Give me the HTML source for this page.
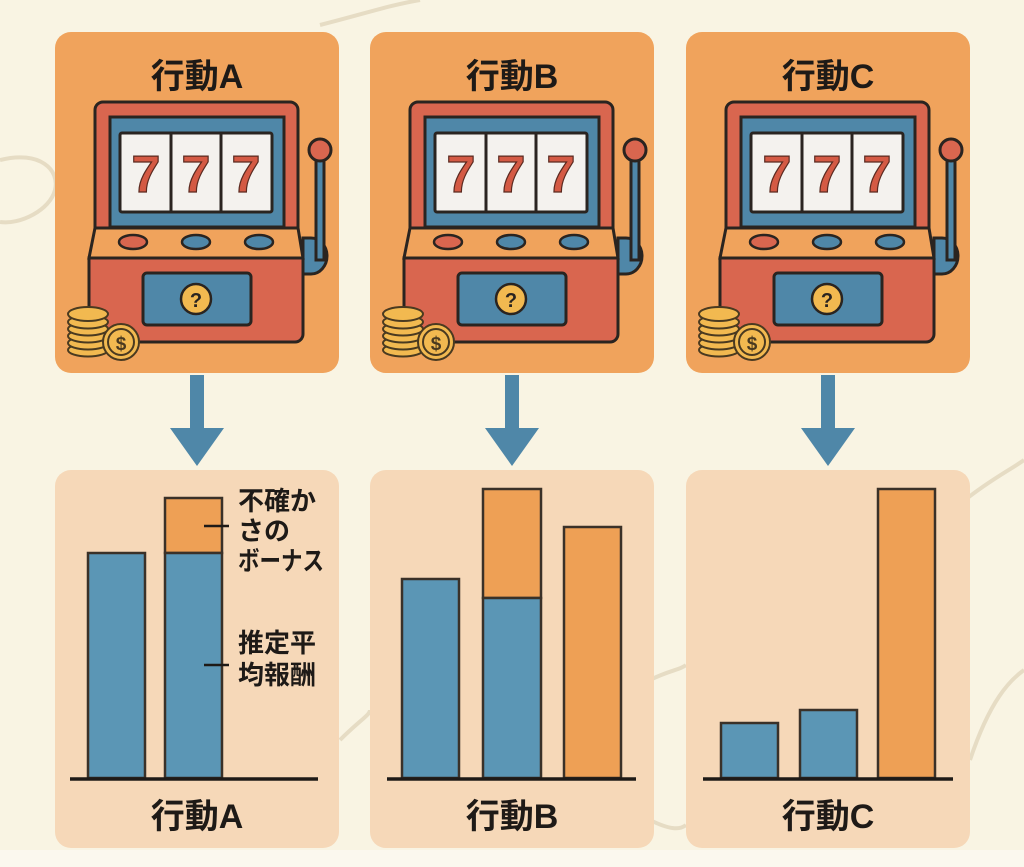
<!DOCTYPE html>
<html><head><meta charset="utf-8"><style>
html,body{margin:0;padding:0;background:#f9f4e3;}
svg{display:block}
text{font-family:"Liberation Sans","Noto Sans CJK JP",sans-serif;font-weight:bold;fill:#1e1a17}
</style></head><body>
<svg width="1024" height="867" viewBox="0 0 1024 867" xmlns="http://www.w3.org/2000/svg">
<rect width="1024" height="867" fill="#f9f4e3"/>
<g fill="none" stroke="#e6dcc4" stroke-width="4">
<path d="M0 160 C40 150 60 170 55 190 C50 210 20 225 0 222"/>
<path d="M320 25 C360 15 390 5 420 0"/>
<path d="M965 500 C990 480 1010 470 1024 460"/>
<path d="M340 740 C360 720 370 715 370 710"/>
<path d="M650 680 C670 670 680 670 686 665"/>
<path d="M970 760 C990 700 1010 680 1024 670"/>
<path d="M650 820 C670 830 680 830 686 825"/>
</g>
<rect x="0" y="850" width="1024" height="17" fill="#fbf8ee"/>
<defs>
<g id="slot">
<!-- lever -->
<path d="M303 238 h8 a16 18 0 0 1 0 36 h-8 z" fill="#4f87a8" stroke="#2a2420" stroke-width="3"/>
<rect x="316" y="155" width="8" height="105" fill="#4f87a8" stroke="#2a2420" stroke-width="3"/>
<circle cx="320" cy="150" r="11" fill="#d9664f" stroke="#2a2420" stroke-width="3"/>
<!-- top cabinet -->
<path d="M95 228 V110 a8 8 0 0 1 8-8 h187 a8 8 0 0 1 8 8 V228 z" fill="#d9664f" stroke="#2a2420" stroke-width="3"/>
<rect x="110" y="117" width="174" height="110" fill="#4f87a8" stroke="#2a2420" stroke-width="3"/>
<rect x="120" y="133" width="152" height="79" fill="#f4f2ee" stroke="#2a2420" stroke-width="3" rx="2"/>
<line x1="171" y1="133" x2="171" y2="212" stroke="#2a2420" stroke-width="3"/>
<line x1="221" y1="133" x2="221" y2="212" stroke="#2a2420" stroke-width="3"/>
<g font-size="52" text-anchor="middle" style="font-family:'Liberation Serif',serif;font-weight:bold;fill:#d45a44;stroke:#5a2a20;stroke-width:1.2">
<text x="146" y="192" style="fill:#d45a44">7</text>
<text x="196" y="192" style="fill:#d45a44">7</text>
<text x="246" y="192" style="fill:#d45a44">7</text>
</g>
<!-- button band -->
<path d="M95 228 H298 L303 258 H89 z" fill="#f0a35c" stroke="#2a2420" stroke-width="3"/>
<ellipse cx="133" cy="242" rx="14" ry="7" fill="#d9664f" stroke="#2a2420" stroke-width="2.5"/>
<ellipse cx="196" cy="242" rx="14" ry="7" fill="#4f87a8" stroke="#2a2420" stroke-width="2.5"/>
<ellipse cx="259" cy="242" rx="14" ry="7" fill="#4f87a8" stroke="#2a2420" stroke-width="2.5"/>
<!-- lower cabinet -->
<path d="M89 258 H303 V334 a8 8 0 0 1 -8 8 H89 z" fill="#d9664f" stroke="#2a2420" stroke-width="3"/>
<rect x="143" y="273" width="108" height="52" rx="4" fill="#4f87a8" stroke="#2a2420" stroke-width="3"/>
<circle cx="196" cy="299" r="15" fill="#f2b950" stroke="#2a2420" stroke-width="2.5"/>
<text x="196" y="307" text-anchor="middle" font-size="20" style="fill:#2a2420">?</text>
<!-- coins -->
<g fill="#f2b950" stroke="#4a3a20" stroke-width="2">
<ellipse cx="88" cy="350" rx="20" ry="6.5"/>
<ellipse cx="88" cy="343" rx="20" ry="6.5"/>
<ellipse cx="88" cy="336" rx="20" ry="6.5"/>
<ellipse cx="88" cy="329" rx="20" ry="6.5"/>
<ellipse cx="88" cy="322" rx="20" ry="6.5"/>
<ellipse cx="88" cy="314" rx="20" ry="7"/>
<circle cx="121" cy="342" r="18"/>
<circle cx="121" cy="342" r="13"/>
</g>
<text x="121" y="350" text-anchor="middle" font-size="19" style="fill:#4a3a20">$</text>
</g>
<g id="arrow">
<rect x="190" y="375" width="14" height="55" fill="#4f87a8"/>
<path d="M170 428 L224 428 L197 466 z" fill="#4f87a8"/>
</g>
</defs>

<g>
<rect x="55" y="32" width="284" height="341" rx="16" fill="#f0a35c"/>
<text x="197" y="88" text-anchor="middle" font-size="34">行動A</text>
<use href="#slot"/>
<use href="#arrow"/>
</g>
<g>
<rect x="370" y="32" width="284" height="341" rx="16" fill="#f0a35c"/>
<text x="512" y="88" text-anchor="middle" font-size="34">行動B</text>
<use href="#slot" transform="translate(315,0)"/>
<use href="#arrow" transform="translate(315,0)"/>
</g>
<g>
<rect x="686" y="32" width="284" height="341" rx="16" fill="#f0a35c"/>
<text x="828" y="88" text-anchor="middle" font-size="34">行動C</text>
<use href="#slot" transform="translate(631,0)"/>
<use href="#arrow" transform="translate(631,0)"/>
</g>

<g stroke="#3a3128" stroke-width="2.5">
<rect x="55" y="470" width="284" height="378" rx="16" fill="#f6d8b8" stroke="none"/>
<rect x="370" y="470" width="284" height="378" rx="16" fill="#f6d8b8" stroke="none"/>
<rect x="686" y="470" width="284" height="378" rx="16" fill="#f6d8b8" stroke="none"/>

<rect x="88" y="553" width="57" height="225" fill="#5b96b5"/>
<rect x="165" y="498" width="57" height="55" fill="#eea055"/>
<rect x="165" y="553" width="57" height="225" fill="#5b96b5"/>

<rect x="402" y="579" width="57" height="199" fill="#5b96b5"/>
<rect x="483" y="489" width="58" height="109" fill="#eea055"/>
<rect x="483" y="598" width="58" height="180" fill="#5b96b5"/>
<rect x="564" y="527" width="57" height="251" fill="#eea055"/>

<rect x="721" y="723" width="57" height="55" fill="#5b96b5"/>
<rect x="800" y="710" width="57" height="68" fill="#5b96b5"/>
<rect x="878" y="489" width="57" height="289" fill="#eea055"/>
</g>
<g stroke="#1e1a17" stroke-width="3.5">
<line x1="70" y1="779" x2="318" y2="779"/>
<line x1="387" y1="779" x2="636" y2="779"/>
<line x1="703" y1="779" x2="953" y2="779"/>
</g>
<g stroke="#1e1a17" stroke-width="2.5">
<line x1="204" y1="526" x2="229" y2="526"/>
<line x1="204" y1="665" x2="229" y2="665"/>
</g>
<g font-size="26">
<text x="238" y="510">不確か</text>
<text x="238" y="540">さの</text>
<text x="238" y="570" textLength="86" lengthAdjust="spacingAndGlyphs">ボーナス</text>
<text x="238" y="652">推定平</text>
<text x="238" y="684">均報酬</text>
</g>
<g font-size="34" text-anchor="middle">
<text x="197" y="828">行動A</text>
<text x="512" y="828">行動B</text>
<text x="828" y="828">行動C</text>
</g>
</svg>
</body></html>
